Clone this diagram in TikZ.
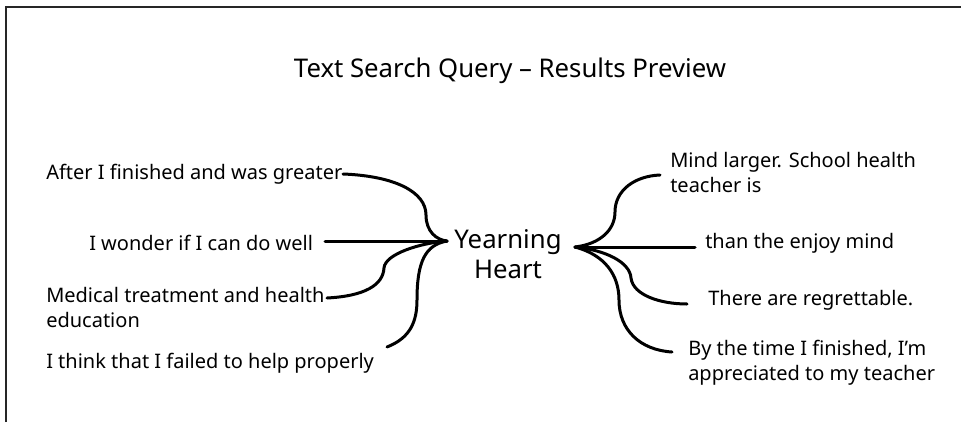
\documentclass[tikz,border=0pt]{standalone}
\usepackage{fontspec}
\setmainfont{Noto Sans}
\usepackage{tikz}

\tikzset{
  leaf/.style={anchor=base west, inner sep=0pt, align=left, font=\fontsize{15}{18.6}\selectfont},
  branch/.style={line width=2.25pt, line cap=round, line join=round},
}

\begin{document}
\begin{tikzpicture}[x=0.75pt, y=-0.75pt]
  \useasboundingbox (0, 0) rectangle (961, 422);
  \draw [line width=1.5pt, black!85] (6, 422) |- (961, 6.5);

  \node (title) at (510, 77) [anchor=base, inner sep=0pt, font=\fontsize{19.3}{23}\selectfont] {Text Search Query -- Results Preview};
  % multi-line nodes sit on the baseline of their last line
  \node (heart) at (508, 278) [anchor=base, inner sep=0pt, align=center, font=\fontsize{19.3}{22.5}\selectfont] {Yearning\\Heart};

  \node (after) at (46, 179) [leaf] {After I finished and was greater};
  \node (wonder) at (89, 250) [leaf] {I wonder if I can do well};
  \node (medical) at (46, 327) [leaf] {Medical treatment and health\\education};
  \node (failed) at (46, 368) [leaf] {I think that I failed to help properly};
  \node (mind) at (670, 192) [leaf] {Mind larger. School health\\teacher is};
  \node (enjoy) at (705, 248) [leaf] {than the enjoy mind};
  \node (regret) at (708, 305) [leaf] {There are regrettable.};
  \node (finished) at (688, 380) [leaf] {By the time I finished, I’m\\appreciated to my teacher};

  % ends of the branches
  \coordinate (lhub) at (447, 241);
  \coordinate (rhub) at (575, 247);
  \coordinate (after-tip) at (343, 174);
  \coordinate (wonder-tip) at (325, 241);
  \coordinate (medical-tip) at (327, 298);
  \coordinate (failed-tip) at (387, 347);
  \coordinate (mind-tip) at (660, 175);
  \coordinate (enjoy-tip) at (695, 247);
  \coordinate (regret-tip) at (687, 304);
  \coordinate (finished-tip) at (672, 352);

  \draw [branch] (after-tip) .. controls (395, 176) and (426, 192) .. (426, 215) .. controls (426, 232) and (437, 240) .. (lhub);
  \draw [branch] (wonder-tip) -- (lhub);
  \draw [branch] (medical-tip) .. controls (365, 296) and (383, 285) .. (384, 268) .. controls (385, 254) and (420, 243) .. (lhub);
  \draw [branch] (failed-tip) .. controls (410, 338) and (417, 322) .. (417, 300) .. controls (417, 262) and (425, 245) .. (lhub);
  \draw [branch] (rhub) .. controls (600, 244) and (615, 230) .. (615, 212) .. controls (615, 190) and (635, 176) .. (mind-tip);
  \draw [branch] (rhub) -- (enjoy-tip);
  \draw [branch] (rhub) .. controls (605, 250) and (630, 262) .. (631, 278) .. controls (633, 295) and (660, 304) .. (regret-tip);
  \draw [branch] (rhub) .. controls (605, 255) and (619, 275) .. (619, 300) .. controls (619, 330) and (640, 350) .. (finished-tip);
\end{tikzpicture}
\end{document}
